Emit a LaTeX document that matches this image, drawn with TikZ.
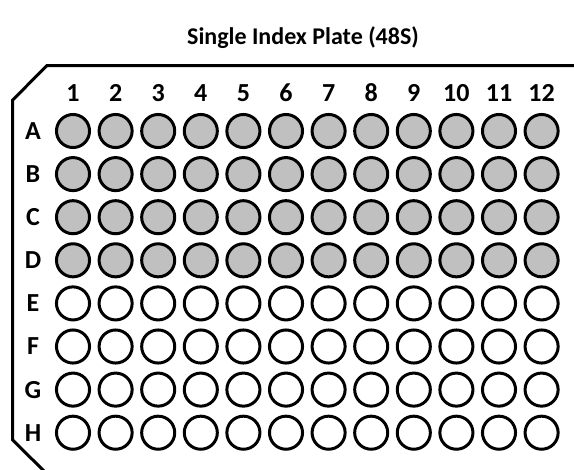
\documentclass[tikz,border=0pt]{standalone}
\usepackage{fontspec}
\setmainfont{Carlito}
\usepackage{tikz}
\usetikzlibrary{positioning}
\definecolor{wellgray}{RGB}{192,192,192}

\begin{document}
\begin{tikzpicture}[x=0.75pt, y=-0.75pt,
    well/.style    ={circle, draw=black, line width=2.25pt, inner sep=0pt, minimum size=24.8pt},
    plate/.style   ={draw=black, line width=2.25pt, line join=miter},
    collabel/.style={font=\bfseries\fontsize{19.5}{19.5}\selectfont, inner sep=0pt},
    rowlabel/.style={font=\bfseries\fontsize{19.5}{19.5}\selectfont, inner sep=0pt},
    title/.style   ={font=\bfseries\fontsize{18}{18}\selectfont, inner sep=0pt}
]
\useasboundingbox (0,0) rectangle (574,469);
\def\xo{73}\def\dx{42.6}
\def\yo{131}\def\dy{43.1}
% --- title ---
\node[title] (title) at (303,38) {Single Index Plate (48S)};
% --- plate outline (chamfered corners on the left) ---
\draw[plate] (576,65.5) -- (47,65.5) -- (12.7,100) -- (12.7,440) -- (44,471);
% --- column numbers ---
\foreach \c in {1,...,12}
  \node[collabel] (col-\c) at ({\xo+(\c-1)*\dx},93) {\c};
% --- rows: label + wells (first four rows filled) ---
\foreach \r [count=\i] in {A,B,C,D,E,F,G,H} {
  \ifnum\i<5 \def\wfill{wellgray}\else\def\wfill{white}\fi
  \node[rowlabel] (row-\r) at (33,{\yo+(\i-1)*\dy}) {\r};
  \foreach \c in {1,...,12}
    \node[well, fill=\wfill] (w-\r-\c) at ({\xo+(\c-1)*\dx},{\yo+(\i-1)*\dy}) {};
}
\end{tikzpicture}
\end{document}
